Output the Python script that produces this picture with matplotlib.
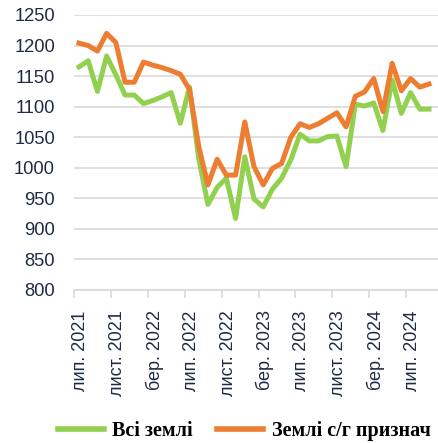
import matplotlib
matplotlib.use("Agg")
import matplotlib.pyplot as plt
import numpy as np
from matplotlib.lines import Line2D

# Monthly data, Jul 2021 .. Sep 2024
months = ["лип. 2021", "серп. 2021", "вер. 2021", "жовт. 2021", "лист. 2021", "груд. 2021",
          "січ. 2022", "лют. 2022", "бер. 2022", "квіт. 2022", "трав. 2022", "черв. 2022",
          "лип. 2022", "серп. 2022", "вер. 2022", "жовт. 2022", "лист. 2022", "груд. 2022",
          "січ. 2023", "лют. 2023", "бер. 2023", "квіт. 2023", "трав. 2023", "черв. 2023",
          "лип. 2023", "серп. 2023", "вер. 2023", "жовт. 2023", "лист. 2023", "груд. 2023",
          "січ. 2024", "лют. 2024", "бер. 2024", "квіт. 2024", "трав. 2024", "черв. 2024",
          "лип. 2024", "серп. 2024", "вер. 2024"]

all_land = [1165, 1175, 1125, 1183, 1152, 1119, 1119, 1105, 1110, 1116, 1123, 1073,
            1132, 1015, 940, 968, 983, 917, 1018, 949, 936, 965, 983, 1013,
            1055, 1044, 1044, 1051, 1052, 1002, 1104, 1101, 1106, 1061, 1144, 1089,
            1123, 1096, 1096]
agri_land = [1204, 1200, 1191, 1220, 1205, 1140, 1140, 1173, 1168, 1164, 1159, 1153,
             1128, 1035, 972, 1014, 988, 988, 1075, 1002, 972, 999, 1007, 1050,
             1072, 1066, 1072, 1081, 1090, 1067, 1117, 1124, 1146, 1092, 1171, 1126,
             1146, 1132, 1137]

series_names = ["Всі землі", "Землі с/г признач"]
y_ticks = [800, 850, 900, 950, 1000, 1050, 1100, 1150, 1200, 1250]

W, H = 439, 443
fig = plt.figure(figsize=(W / 100, H / 100), dpi=100)
left, right, top, bottom = 74.4, 439.1, 15, 290
ax = fig.add_axes([left / W, 1 - bottom / H, (right - left) / W, (bottom - top) / H])

x = np.arange(len(months))
green = "#92D050"
orange = "#ED7D31"
ax.plot(x, all_land, color=green, lw=3.6, zorder=3)
ax.plot(x, agri_land, color=orange, lw=3.6, zorder=4)

ax.set_xlim(-0.5, 39.1)
ax.set_ylim(800, 1250)
ax.set_yticks(y_ticks)
ax.yaxis.grid(True, color="#d9d9d9", lw=1.2)
ax.set_axisbelow(True)
for s in ["left", "right", "top"]:
    ax.spines[s].set_visible(False)
ax.spines["bottom"].set_color("#d9d9d9")
ax.spines["bottom"].set_linewidth(1.2)

txt_color = "#1f2b45"
ax.tick_params(axis="y", length=0, pad=14, labelsize=13.2, labelcolor=txt_color)
for lab in ax.get_yticklabels():
    lab.set_family("Liberation Sans")

label_idx = list(range(0, len(months), 4))
ax.set_xticks([i - 0.5 for i in label_idx])
ax.set_xticklabels([])
ax.tick_params(axis="x", length=6, color="#d9d9d9", width=1.2)
for i in label_idx:
    ax.text(i + 0.2, 767, months[i], rotation=90, ha="center", va="top",
            fontsize=13, color=txt_color, family="Liberation Sans")

handles = [Line2D([], [], color=green, lw=4), Line2D([], [], color=orange, lw=4)]
fig.legend(handles, series_names, loc="center left", bbox_to_anchor=(58 / W, 1 - 431 / H),
           ncol=2, frameon=False, handlelength=2.3, handletextpad=0.4, columnspacing=1.2,
           prop={"family": "Liberation Serif", "weight": "bold", "size": 14.5},
           borderpad=0, borderaxespad=0)

fig.savefig("out.png", dpi=100)
